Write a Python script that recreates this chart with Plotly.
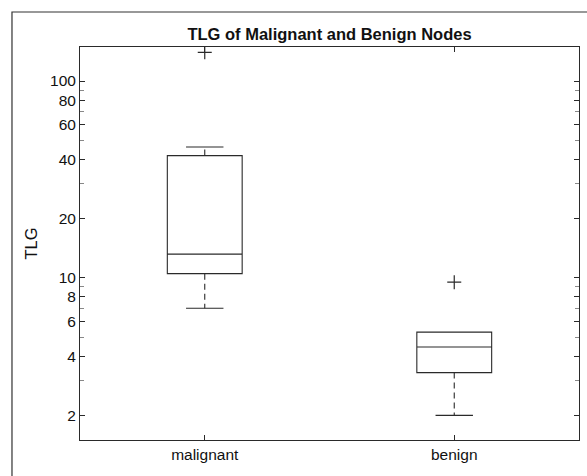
import plotly.graph_objects as go

# box statistics (log scale)
groups = ['malignant', 'benign']
q1 = [10.5, 3.3]
medians = [13.2, 4.45]
q3 = [41.8, 5.3]
lower_whisker = [7.0, 2.0]
upper_whisker = [46.2, 5.3]
outlier_vals = [[140], [9.5]]

y_tickvals = [2, 4, 6, 8, 10, 20, 40, 60, 80, 100]
y_minor = [3, 5, 7, 9, 30, 50, 70, 90]

ink = '#2a2a2a'
box_w = 0.3
cap_w = 0.15

fig = go.Figure()

for i, name in enumerate(groups):
    xpos = i + 1
    # box + median (whiskers drawn separately, dashed)
    fig.add_trace(go.Box(
        x=[xpos], q1=[q1[i]], median=[medians[i]], q3=[q3[i]],
        lowerfence=[q1[i]], upperfence=[q3[i]],
        width=box_w, whiskerwidth=0,
        fillcolor='white', line=dict(color=ink, width=1.1),
        boxpoints=False, hoverinfo='skip', showlegend=False,
    ))
    # whiskers
    for end, base in ((lower_whisker[i], q1[i]), (upper_whisker[i], q3[i])):
        if end == base:
            continue
        fig.add_trace(go.Scatter(
            x=[xpos, xpos], y=[base, end], mode='lines',
            line=dict(color=ink, width=1.1, dash='6px,4px'),
            showlegend=False, hoverinfo='skip',
        ))
        fig.add_trace(go.Scatter(
            x=[xpos - cap_w / 2, xpos + cap_w / 2], y=[end, end], mode='lines',
            line=dict(color=ink, width=1.1),
            showlegend=False, hoverinfo='skip',
        ))
    # outliers
    fig.add_trace(go.Scatter(
        x=[xpos] * len(outlier_vals[i]), y=outlier_vals[i], mode='markers',
        marker=dict(symbol='cross-thin', size=10, line=dict(color=ink, width=1.2)),
        showlegend=False, hoverinfo='skip',
    ))

# outer frame of the figure (top/left visible)
fig.add_shape(type='rect', xref='paper', yref='paper',
              x0=-0.1363, x1=1.2, y0=-0.2, y1=1.089,
              line=dict(color='#333333', width=1.2), layer='below')

fig.update_layout(
    width=587, height=476,
    margin=dict(l=80, r=8, t=47, b=36),
    paper_bgcolor='white', plot_bgcolor='white',
    font=dict(family='Arial, Liberation Sans, sans-serif', size=15.5, color='#111111'),
    title=dict(text='<b>TLG of Malignant and Benign Nodes</b>', x=0.5, xref='paper',
               xanchor='center', y=1 - 34 / 476, yanchor='middle',
               font=dict(size=16.5, color='#111111')),
    xaxis=dict(
        range=[0.5, 2.5], tickvals=[1, 2], ticktext=groups,
        showline=True, linecolor=ink, linewidth=1, mirror='ticks',
        ticks='inside', ticklen=5, tickcolor=ink,
        tickfont=dict(size=15.5),
        showgrid=False, zeroline=False, automargin=False,
    ),
    yaxis=dict(
        type='log', range=[0.176, 2.173],
        tickvals=y_tickvals, ticktext=[str(v) for v in y_tickvals],
        showline=True, linecolor=ink, linewidth=1, mirror='ticks',
        ticks='inside', ticklen=5, tickcolor=ink,
        tickfont=dict(size=15.5),
        minor=dict(tickvals=y_minor, ticks='inside', ticklen=4, tickcolor='#888888', showgrid=False),
        showgrid=False, zeroline=False, automargin=False,
        title=dict(text='TLG', standoff=8, font=dict(size=16.5)),
    ),
)

fig.write_html('out.html', config={'displayModeBar': False},
               post_script="document.body.style.margin='0';")
